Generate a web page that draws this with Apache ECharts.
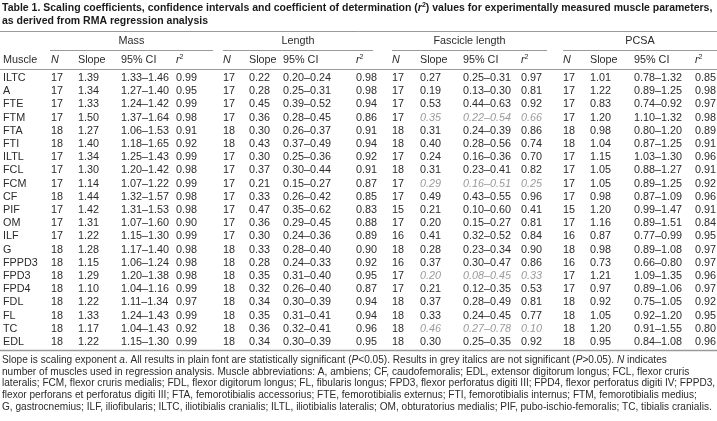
<!DOCTYPE html>
<html><head><meta charset="utf-8">
<script src="https://cdn.jsdelivr.net/npm/echarts@6/dist/echarts.min.js"></script>
<style>html,body{margin:0;padding:0;background:#fff}#c{width:717px;height:421px}</style>
</head><body><div id="c"></div>
<script>
// ---------- DATA ----------
const muscles = ['ILTC','A','FTE','FTM','FTA','FTI','ILTL','FCL','FCM','CF','PIF','OM','ILF','G','FPPD3','FPD3','FPD4','FDL','FL','TC','EDL'];

const massN     = [17,17,17,17,18,18,17,17,17,18,17,17,17,18,18,18,18,18,18,18,18];
const massSlope = ['1.39','1.34','1.33','1.50','1.27','1.40','1.34','1.30','1.14','1.44','1.42','1.31','1.22','1.28','1.15','1.29','1.10','1.22','1.33','1.17','1.22'];
const massCI    = ['1.33–1.46','1.27–1.40','1.24–1.42','1.37–1.64','1.06–1.53','1.18–1.65','1.25–1.43','1.20–1.42','1.07–1.22','1.32–1.57','1.31–1.53','1.07–1.60','1.15–1.30','1.17–1.40','1.06–1.24','1.20–1.38','1.04–1.16','1.11–1.34','1.24–1.43','1.04–1.43','1.15–1.30'];
const massR2    = ['0.99','0.95','0.99','0.98','0.91','0.92','0.99','0.98','0.99','0.98','0.98','0.90','0.99','0.98','0.98','0.98','0.99','0.97','0.99','0.92','0.99'];

const lengthN     = [17,17,17,17,18,18,17,17,17,17,17,17,17,18,18,18,18,18,18,18,18];
const lengthSlope = ['0.22','0.28','0.45','0.36','0.30','0.43','0.30','0.37','0.21','0.33','0.47','0.36','0.30','0.33','0.28','0.35','0.32','0.34','0.35','0.36','0.34'];
const lengthCI    = ['0.20–0.24','0.25–0.31','0.39–0.52','0.28–0.45','0.26–0.37','0.37–0.49','0.25–0.36','0.30–0.44','0.15–0.27','0.26–0.42','0.35–0.62','0.29–0.45','0.24–0.36','0.28–0.40','0.24–0.33','0.31–0.40','0.26–0.40','0.30–0.39','0.31–0.41','0.32–0.41','0.30–0.39'];
const lengthR2    = ['0.98','0.98','0.94','0.86','0.91','0.94','0.92','0.91','0.87','0.85','0.83','0.88','0.89','0.90','0.92','0.95','0.87','0.94','0.94','0.96','0.95'];

const fascN     = [17,17,17,17,18,18,17,18,17,17,15,17,16,18,16,17,17,18,18,18,18];
const fascSlope = ['0.27','0.19','0.53','0.35','0.31','0.40','0.24','0.31','0.29','0.49','0.21','0.20','0.41','0.28','0.37','0.20','0.21','0.37','0.33','0.46','0.30'];
const fascCI    = ['0.25–0.31','0.13–0.30','0.44–0.63','0.22–0.54','0.24–0.39','0.28–0.56','0.16–0.36','0.23–0.41','0.16–0.51','0.43–0.55','0.10–0.60','0.15–0.27','0.32–0.52','0.23–0.34','0.30–0.47','0.08–0.45','0.12–0.35','0.28–0.49','0.24–0.45','0.27–0.78','0.25–0.35'];
const fascR2    = ['0.97','0.81','0.92','0.66','0.86','0.74','0.70','0.82','0.25','0.96','0.41','0.81','0.84','0.90','0.86','0.33','0.53','0.81','0.77','0.10','0.92'];
const fascNotSignificant = ['FTM','FCM','FPD3','TC'];

const pcsaN     = [17,17,17,17,18,18,17,17,17,17,15,17,16,18,16,17,17,18,18,18,18];
const pcsaSlope = ['1.01','1.22','0.83','1.20','0.98','1.04','1.15','1.05','1.05','0.98','1.20','1.16','0.87','0.98','0.73','1.21','0.97','0.92','1.05','1.20','0.95'];
const pcsaCI    = ['0.78–1.32','0.89–1.25','0.74–0.92','1.10–1.32','0.80–1.20','0.87–1.25','1.03–1.30','0.88–1.27','0.89–1.25','0.87–1.09','0.99–1.47','0.89–1.51','0.77–0.99','0.89–1.08','0.66–0.80','1.09–1.35','0.89–1.06','0.75–1.05','0.92–1.20','0.91–1.55','0.84–1.08'];
const pcsaR2    = ['0.85','0.98','0.97','0.98','0.89','0.91','0.96','0.91','0.92','0.96','0.91','0.84','0.95','0.97','0.97','0.96','0.97','0.92','0.95','0.80','0.96'];

const groupTitles  = ['Mass','Length','Fascicle length','PCSA'];
const columnTitles = ['N','Slope','95% CI','r2'];

const titleLines = [
  'Table 1. Scaling coefficients, confidence intervals and coefficient of determination ({bi|r}{bs|2}) values for experimentally measured muscle parameters,',
  'as derived from RMA regression analysis'
];
const footnoteLines = [
  'Slope is scaling exponent {i|a}. All results in plain font are statistically significant ({i|P}<0.05). Results in grey italics are not significant ({i|P}>0.05). {i|N} indicates',
  'number of muscles used in regression analysis. Muscle abbreviations: A, ambiens; CF, caudofemoralis; EDL, extensor digitorum longus; FCL, flexor cruris',
  'lateralis; FCM, flexor cruris medialis; FDL, flexor digitorum longus; FL, fibularis longus; FPD3, flexor perforatus digiti III; FPD4, flexor perforatus digiti IV; FPPD3,',
  'flexor perforans et perforatus digiti III; FTA, femorotibialis accessorius; FTE, femorotibialis externus; FTI, femorotibialis internus; FTM, femorotibialis medius;',
  'G, gastrocnemius; ILF, iliofibularis; ILTC, iliotibialis cranialis; ILTL, iliotibialis lateralis; OM, obturatorius medialis; PIF, pubo-ischio-femoralis; TC, tibialis cranialis.'
];

// ---------- LAYOUT ----------
const FONT = '"Liberation Sans", Arial, sans-serif';
const W = 717;
const BODY = 10.8, FOOT = 10.1, TITLE = 10.5;
const TXT = '#2b2b2b', GREY = '#9a9a9a', RULE = '#9a9a9a';
const muscleX = 3;
const groupCols = [[51,78,121,176],[223,249,283,356],[392,420,463,521],[563,590,634,695]];
const groupSpan = [[50,213],[223,373],[392,547],[563,717]];
const rowTop = 71.4, rowH = 13.2;

const groups = [
  [massN, massSlope, massCI, massR2],
  [lengthN, lengthSlope, lengthCI, lengthR2],
  [fascN, fascSlope, fascCI, fascR2],
  [pcsaN, pcsaSlope, pcsaCI, pcsaR2]
];

const cells = [];
muscles.forEach((m, r) => {
  cells.push({value: [muscleX, r], text: m, grey: false});
  groups.forEach((g, gi) => {
    const ns = gi === 2 && fascNotSignificant.includes(m);
    g.forEach((col, ci) => {
      const grey = ns && ci > 0;
      cells.push({value: [groupCols[gi][ci], r], text: String(col[r]), grey});
    });
  });
});

const graphic = [];
titleLines.forEach((t, i) => graphic.push({
  type: 'text', x: 2, y: 8 + i * 13.5,
  style: {text: t, font: `bold ${TITLE}px ${FONT}`, fill: '#1a1a1a', verticalAlign: 'middle',
    rich: {bi: {fontStyle: 'italic', fontWeight: 'bold', fontSize: TITLE, fontFamily: FONT, fill: '#1a1a1a'},
           bs: {fontWeight: 'bold', fontSize: 7, fontFamily: FONT, fill: '#1a1a1a', padding:[0,0,5,0]}}}
}));
function hline(x1, x2, y, w) {
  graphic.push({type: 'line', shape: {x1, y1: y, x2, y2: y}, style: {stroke: RULE, lineWidth: w || 1}});
}
hline(0, W, 31.5, 1);
hline(0, W, 69.5, 1);
hline(0, W, 350.5, 1.5);
groupSpan.forEach((s, gi) => {
  hline(s[0], s[1], 50.5, 1);
  graphic.push({type: 'text', x: (s[0] + s[1]) / 2, y: 41,
    style: {text: groupTitles[gi], font: `${BODY}px ${FONT}`, fill: TXT, align: 'center', verticalAlign: 'middle'}});
  columnTitles.forEach((ct, ci) => {
    let text = ct;
    if (ct === 'N') text = '{i|N}';
    if (ct === 'r2') text = '{i|r}{s|2}';
    graphic.push({type: 'text', x: groupCols[gi][ci], y: 60,
      style: {text, font: `${BODY}px ${FONT}`, fill: TXT, verticalAlign: 'middle',
        rich: {i: {fontStyle: 'italic', fontSize: BODY, fontFamily: FONT, fill: TXT},
               s: {fontSize: 7, fontFamily: FONT, fill: TXT, padding: [0,0,5,0]}}}});
  });
});
graphic.push({type: 'text', x: muscleX, y: 60,
  style: {text: 'Muscle', font: `${BODY}px ${FONT}`, fill: TXT, verticalAlign: 'middle'}});
footnoteLines.forEach((t, i) => graphic.push({
  type: 'text', x: 2, y: 360 + i * 11.8,
  style: {text: t, font: `${FOOT}px ${FONT}`, fill: TXT, verticalAlign: 'middle',
    rich: {i: {fontStyle: 'italic', fontSize: FOOT, fontFamily: FONT, fill: TXT}}}
}));

const chart = echarts.init(document.getElementById('c'), null, {renderer: 'canvas'});
chart.setOption({
  animation: false,
  backgroundColor: '#fff',
  grid: {left: 0, right: 0, top: rowTop, height: rowH * muscles.length},
  xAxis: {type: 'value', min: 0, max: W, show: false},
  yAxis: {type: 'category', data: muscles, inverse: true, show: false},
  graphic,
  series: [{
    type: 'custom',
    clip: false,
    data: cells.map(c => c.value),
    renderItem: (params, api) => {
      const c = cells[params.dataIndex];
      const p = api.coord([api.value(0), api.value(1)]);
      return {type: 'text', x: p[0], y: p[1],
        style: {text: c.text, fill: c.grey ? GREY : TXT,
          font: `${c.grey ? 'italic ' : ''}${BODY}px ${FONT}`, verticalAlign: 'middle', align: 'left'}};
    }
  }]
});
</script></body></html>
